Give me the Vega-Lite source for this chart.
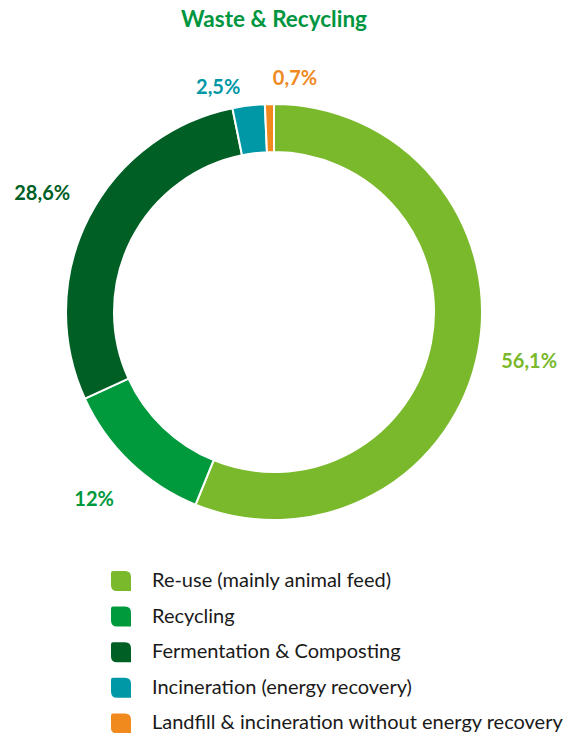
{
  "$schema": "https://vega.github.io/schema/vega-lite/v6.json",
  "autosize": {"type": "none"},
  "width": 548,
  "height": 544,
  "padding": {"left": 0, "top": 40, "right": 18, "bottom": 149},
  "background": "white",
  "title": {
    "text": "Waste & Recycling",
    "font": "Lato",
    "fontSize": 22.5,
    "fontWeight": "bold",
    "color": "#00963f",
    "anchor": "middle",
    "offset": 9
  },
  "data": {
    "values": [
      {"idx": 1, "cat": "Re-use (mainly animal feed)", "pct": 56.1, "label": "56,1%"},
      {"idx": 2, "cat": "Recycling", "pct": 12, "label": "12%"},
      {"idx": 3, "cat": "Fermentation & Composting", "pct": 28.6, "label": "28,6%"},
      {"idx": 4, "cat": "Incineration (energy recovery)", "pct": 2.5, "label": "2,5%"},
      {"idx": 5, "cat": "Landfill & incineration without energy recovery", "pct": 0.7, "label": "0,7%"}
    ]
  },
  "encoding": {
    "theta": {"field": "pct", "type": "quantitative", "stack": true},
    "order": {"field": "idx", "type": "quantitative"},
    "color": {
      "field": "cat",
      "type": "nominal",
      "sort": null,
      "scale": {
        "domain": ["Re-use (mainly animal feed)", "Recycling", "Fermentation & Composting", "Incineration (energy recovery)", "Landfill & incineration without energy recovery"],
        "range": ["#7ab92c", "#009a3d", "#005f25", "#0098a6", "#f08a1f"]
      }
    }
  },
  "layer": [
    {
      "mark": {"type": "arc", "outerRadius": 208, "innerRadius": 160, "stroke": "white", "strokeWidth": 2},
      "encoding": {
        "color": {
          "field": "cat",
          "type": "nominal",
          "sort": null,
          "legend": {
            "title": null,
            "orient": "none",
            "legendX": 111,
            "legendY": 531,
            "direction": "vertical",
            "padding": 0,
            "symbolType": "M-1,-0.8Q-1,-1 -0.8,-1H0.4Q1,-1 1,-0.4V1H-0.4Q-1,1 -1,0.4Z",
            "symbolSize": 400,
            "symbolStrokeWidth": 0,
            "symbolOpacity": 1,
            "labelFont": "Lato",
            "labelFontSize": 20,
            "labelColor": "#1a1a1a",
            "labelOffset": 21,
            "labelLimit": 600,
            "rowPadding": 15.6
          }
        }
      }
    },
    {
      "mark": {"type": "text", "radius": 260, "font": "Lato", "fontSize": 20, "fontWeight": "bold", "align": "center", "baseline": "middle"},
      "encoding": {
        "text": {"condition": {"test": "datum.idx <= 3", "field": "label"}, "value": ""},
        "color": {"field": "cat", "type": "nominal", "sort": null, "legend": null}
      }
    },
    {
      "mark": {"type": "text", "radius": 226, "dx": -6, "font": "Lato", "fontSize": 20, "fontWeight": "bold", "align": "right", "baseline": "middle"},
      "encoding": {
        "text": {"condition": {"test": "datum.idx == 4", "field": "label"}, "value": ""},
        "color": {"field": "cat", "type": "nominal", "sort": null, "legend": null}
      }
    },
    {
      "mark": {"type": "text", "radius": 233, "dx": 4, "font": "Lato", "fontSize": 20, "fontWeight": "bold", "align": "left", "baseline": "middle"},
      "encoding": {
        "text": {"condition": {"test": "datum.idx == 5", "field": "label"}, "value": ""},
        "color": {"field": "cat", "type": "nominal", "sort": null, "legend": null}
      }
    }
  ],
  "config": {"view": {"stroke": null}}
}
